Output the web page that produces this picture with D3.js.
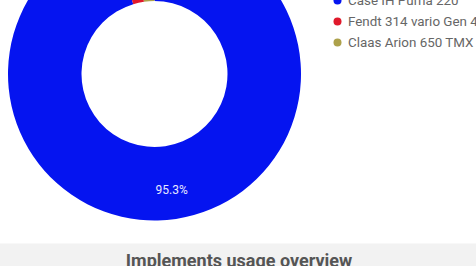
<!DOCTYPE html>
<html>
<head>
<meta charset="utf-8">
<script src="https://cdn.jsdelivr.net/npm/d3@7"></script>
<style>
  body { margin: 0; background: #fff; font-family: Roboto, "Noto Sans", sans-serif; }
  #chart-area { width: 476px; height: 266px; overflow: hidden; }
</style>
</head>
<body>
<div id="chart-area"></div>
<script>
// Data
var tractors = ["Case IH Puma 220", "Fendt 314 vario Gen 4", "Claas Arion 650 TMX"];
var shares = [95.3, 2.4, 2.3];
var colors = ["#0514f0", "#e0192b", "#ada14b"];
var chartTitle = "Implements usage overview";

var width = 476, height = 266;
var cx = 154.5, cy = 74;
var outerR = 146.5, innerR = 73;

var svg = d3.select("#chart-area")
    .append("svg")
        .attr("width", width)
        .attr("height", height);

var data = tractors.map(function(t, i) {
    return { name: t, value: shares[i], color: colors[i] };
});

var pie = d3.pie()
    .sort(null)
    .value(function(d) { return d.value; });

var arc = d3.arc()
    .innerRadius(innerR)
    .outerRadius(outerR);

var labelArc = d3.arc()
    .innerRadius(117)
    .outerRadius(117);

var g = svg.append("g")
    .attr("transform", "translate(" + cx + "," + cy + ")");

g.selectAll("path")
    .data(pie(data))
    .enter()
    .append("path")
        .attr("d", arc)
        .attr("fill", function(d) { return d.data.color; });

// Percentage labels (only for large slices)
g.selectAll("text.pct")
    .data(pie(data).filter(function(d) { return d.data.value > 10; }))
    .enter()
    .append("text")
        .attr("class", "pct")
        .attr("transform", function(d) { return "translate(" + labelArc.centroid(d) + ")"; })
        .attr("text-anchor", "middle")
        .attr("dominant-baseline", "central")
        .attr("font-size", "12px")
        .attr("fill", "#e8e8ff")
        .text(function(d) { return d.data.value.toFixed(1) + "%"; });

// Legend
var legend = svg.append("g")
    .attr("transform", "translate(337.5, 0.5)");

var items = legend.selectAll("g")
    .data(data)
    .enter()
    .append("g")
        .attr("transform", function(d, i) { return "translate(0," + (i * 21) + ")"; });

items.append("circle")
    .attr("r", 4)
    .attr("fill", function(d) { return d.color; });

items.append("text")
    .attr("x", 10.5)
    .attr("dy", "0.35em")
    .attr("font-size", "13.4px")
    .attr("fill", "#666")
    .text(function(d) { return d.name; });

// Title band
svg.append("rect")
    .attr("x", 0)
    .attr("y", 243.5)
    .attr("width", width)
    .attr("height", height - 243.5)
    .attr("fill", "#f2f2f2");

svg.append("text")
    .attr("x", 239)
    .attr("y", 267)
    .attr("text-anchor", "middle")
    .attr("font-size", "18px")
    .attr("font-weight", "bold")
    .attr("fill", "#555")
    .text(chartTitle);
</script>
</body>
</html>
